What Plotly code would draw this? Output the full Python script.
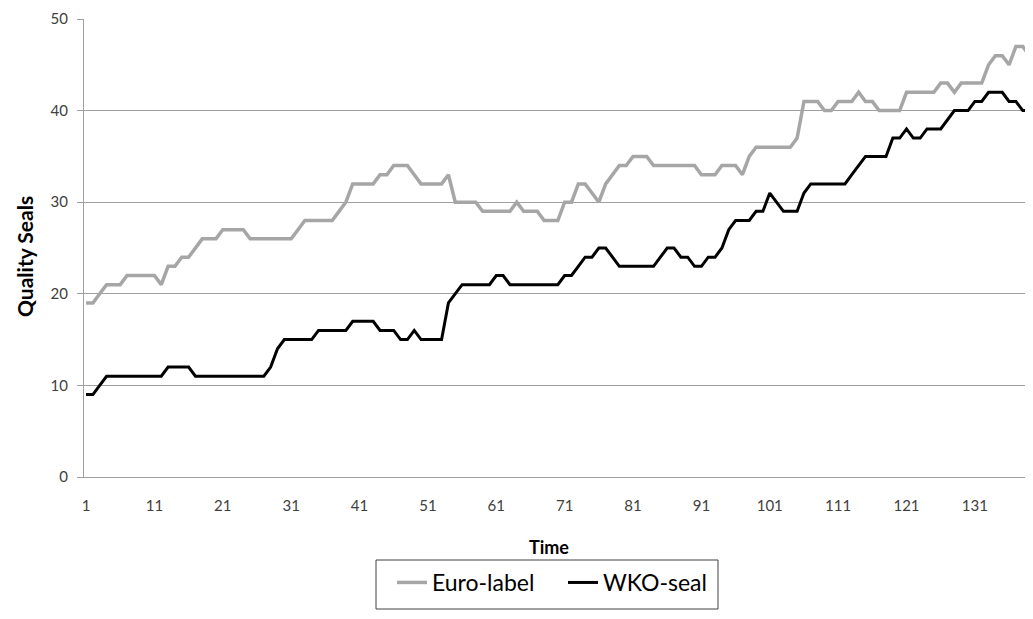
import plotly.graph_objects as go

time = list(range(1, 140))

euro_label = [
    19, 19, 20, 21, 21, 21, 22, 22, 22, 22,
    22, 21, 23, 23, 24, 24, 25, 26, 26, 26,
    27, 27, 27, 27, 26, 26, 26, 26, 26, 26,
    26, 27, 28, 28, 28, 28, 28, 29, 30, 32,
    32, 32, 32, 33, 33, 34, 34, 34, 33, 32,
    32, 32, 32, 33, 30, 30, 30, 30, 29, 29,
    29, 29, 29, 30, 29, 29, 29, 28, 28, 28,
    30, 30, 32, 32, 31, 30, 32, 33, 34, 34,
    35, 35, 35, 34, 34, 34, 34, 34, 34, 34,
    33, 33, 33, 34, 34, 34, 33, 35, 36, 36,
    36, 36, 36, 36, 37, 41, 41, 41, 40, 40,
    41, 41, 41, 42, 41, 41, 40, 40, 40, 40,
    42, 42, 42, 42, 42, 43, 43, 42, 43, 43,
    43, 43, 45, 46, 46, 45, 47, 47, 46,
]

wko_seal = [
    9, 9, 10, 11, 11, 11, 11, 11, 11, 11,
    11, 11, 12, 12, 12, 12, 11, 11, 11, 11,
    11, 11, 11, 11, 11, 11, 11, 12, 14, 15,
    15, 15, 15, 15, 16, 16, 16, 16, 16, 17,
    17, 17, 17, 16, 16, 16, 15, 15, 16, 15,
    15, 15, 15, 19, 20, 21, 21, 21, 21, 21,
    22, 22, 21, 21, 21, 21, 21, 21, 21, 21,
    22, 22, 23, 24, 24, 25, 25, 24, 23, 23,
    23, 23, 23, 23, 24, 25, 25, 24, 24, 23,
    23, 24, 24, 25, 27, 28, 28, 28, 29, 29,
    31, 30, 29, 29, 29, 31, 32, 32, 32, 32,
    32, 32, 33, 34, 35, 35, 35, 35, 37, 37,
    38, 37, 37, 38, 38, 38, 39, 40, 40, 40,
    41, 41, 42, 42, 42, 41, 41, 40, 40,
]

x_tick_vals = list(range(1, 140, 10))
y_tick_vals = [0, 10, 20, 30, 40, 50]

FONT = "Lato, Carlito, Calibri, 'Liberation Sans', sans-serif"

# The page body has an 8px default margin, so the figure is drawn 8px in
# from the top-left corner; size it so that it fills the window exactly.
OFF = 8
FIG_W, FIG_H = 1033 - OFF, 619 - OFF
plot_l, plot_r, plot_t, plot_b = 84 - OFF, 1033 - OFF, 19 - OFF, 477 - OFF
pw, ph = plot_r - plot_l, plot_b - plot_t


def to_paper(px_x, px_y):
    """page pixel -> paper coords"""
    return (px_x - OFF - plot_l) / pw, (plot_b - (px_y - OFF)) / ph


fig = go.Figure()
fig.add_trace(go.Scatter(
    x=time, y=euro_label, mode="lines", name="Euro-label",
    line=dict(color="#a6a6a6", width=3.5),
))
fig.add_trace(go.Scatter(
    x=time, y=wko_seal, mode="lines", name="WKO-seal",
    line=dict(color="#000000", width=3),
))

tx, ty = to_paper(549, 547)
qx, qy = to_paper(24, 256)
lx, ly = to_paper(392, 561)
bx0, by0 = to_paper(376, 560)
bx1, by1 = to_paper(718, 609)

fig.update_layout(
    width=FIG_W, height=FIG_H,
    margin=dict(l=plot_l, r=FIG_W - plot_r, t=plot_t, b=FIG_H - plot_b, autoexpand=False),
    paper_bgcolor="white", plot_bgcolor="white",
    font=dict(family=FONT, color="#404040", size=15),
    showlegend=True,
    legend=dict(
        orientation="h", x=lx, xanchor="left", y=ly, yanchor="top",
        font=dict(size=23, color="#000000"),
        borderwidth=0, bgcolor="rgba(0,0,0,0)",
        entrywidth=126, entrywidthmode="pixels",
        itemwidth=30, tracegroupgap=0,
    ),
    shapes=[
        dict(type="rect", xref="paper", yref="paper",
             x0=bx0, x1=bx1, y0=by0, y1=by1,
             line=dict(color="#404040", width=1), fillcolor="rgba(0,0,0,0)",
             layer="above"),
    ],
    annotations=[
        dict(text="<b>Time</b>", x=tx, y=ty, xref="paper", yref="paper",
             showarrow=False, font=dict(size=18, color="#000000"),
             xanchor="center", yanchor="middle"),
        dict(text="<b>Quality Seals</b>", x=qx, y=qy, xref="paper", yref="paper",
             textangle=-90, showarrow=False, font=dict(size=21, color="#000000"),
             xanchor="center", yanchor="middle"),
    ],
)

fig.update_xaxes(
    range=[0.7, 139.5], tickvals=x_tick_vals, ticktext=[str(v) for v in x_tick_vals],
    showgrid=False, zeroline=False, automargin=False,
    showline=True, linecolor="#a0a0a0", linewidth=1,
    ticks="", ticklabelstandoff=15,
    tickfont=dict(size=15, color="#404040"),
)
fig.update_yaxes(
    range=[0, 50], tickvals=y_tick_vals, automargin=False,
    showgrid=True, gridcolor="#a0a0a0", gridwidth=1,
    zeroline=False,
    showline=True, linecolor="#a0a0a0", linewidth=1,
    ticks="outside", ticklen=6, tickcolor="#a0a0a0",
    ticklabelstandoff=6,
    tickfont=dict(size=15, color="#404040"),
)

fig.write_html("out.html")
